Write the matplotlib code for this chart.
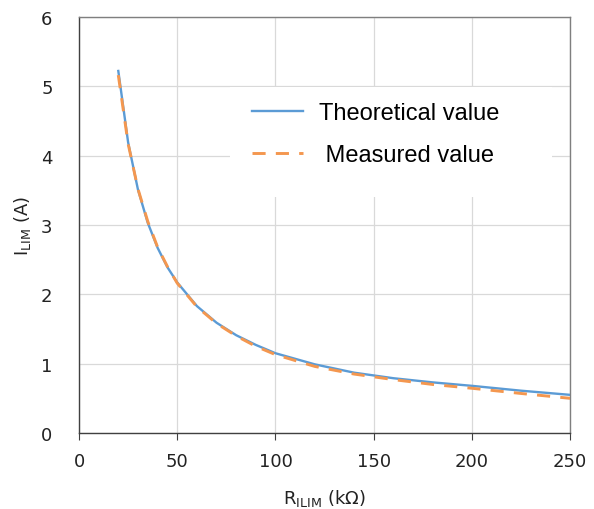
import matplotlib
matplotlib.use("Agg")
import matplotlib.pyplot as plt
from matplotlib.patches import Rectangle

plt.rcParams['font.family'] = ['DejaVu Sans']
plt.rcParams['mathtext.fontset'] = 'dejavusans'

# Datos
r_teorico = [20, 25, 30, 35, 40, 45, 50, 60, 70, 80, 90, 100, 120, 140, 160, 180, 200, 225, 250]
i_teorico = [5.22, 4.19, 3.51, 3.03, 2.67, 2.39, 2.17, 1.83, 1.59, 1.41, 1.27, 1.15,
             0.99, 0.87, 0.79, 0.73, 0.68, 0.61, 0.55]
r_medido = [20, 25, 30, 35, 40, 45, 50, 60, 70, 80, 90, 100, 120, 140, 160, 180, 200, 225, 250]
i_medido = [5.16, 4.17, 3.52, 3.05, 2.68, 2.40, 2.16, 1.82, 1.58, 1.40, 1.25, 1.13,
            0.96, 0.85, 0.77, 0.70, 0.645, 0.57, 0.50]

x_ticks = [0, 50, 100, 150, 200, 250]
y_ticks = [0, 1, 2, 3, 4, 5, 6]

fig = plt.figure(figsize=(5.94, 5.10), dpi=100)
ax = fig.add_axes([0.133, 0.149, 0.827, 0.816])

ax.plot(r_teorico, i_teorico, color='#5B9BD5', lw=1.7, label='Theoretical value', zorder=3)
ax.plot(r_medido, i_medido, color='#F4974F', lw=2.1, dashes=(4.5, 3.5),
        label=' Measured value', zorder=4)

ax.set_xlim(0, 250)
ax.set_ylim(0, 6)
ax.set_xticks(x_ticks)
ax.set_yticks(y_ticks)
ax.grid(True, color='#d9d9d9', lw=0.9)
ax.set_axisbelow(True)

for s in ['left', 'bottom']:
    ax.spines[s].set_color('#404040')
    ax.spines[s].set_linewidth(1.0)
for s in ['top', 'right']:
    ax.spines[s].set_color('#7f7f7f')
    ax.spines[s].set_linewidth(1.0)

ax.tick_params(axis='x', direction='out', length=5, color='#404040', labelsize=13, pad=9)
ax.tick_params(axis='y', length=0, labelsize=13, pad=19)
for t in ax.get_xticklabels() + ax.get_yticklabels():
    t.set_color('#222222')

ax.set_xlabel(r'R$_\mathregular{ILIM}$ (k$\Omega$)', fontsize=13, color='#222222', labelpad=12)
ax.set_ylabel(r'I$_\mathregular{LIM}$ (A)', fontsize=13, color='#222222', labelpad=6)

# Fondo blanco del área de la leyenda (tapa la cuadrícula)
ax.add_patch(Rectangle((0.3075, 0.567), 0.6555, 0.265, transform=ax.transAxes,
                       facecolor='white', edgecolor='none', zorder=2))

leg = ax.legend(loc='upper left', bbox_to_anchor=(0.308, 0.847), frameon=False,
                prop={'family': 'Liberation Sans', 'size': 17},
                handlelength=2.2, handletextpad=0.65, labelspacing=0.85,
                borderpad=0.9, borderaxespad=0)
leg.set_zorder(5)

fig.savefig('out.png', dpi=100)
